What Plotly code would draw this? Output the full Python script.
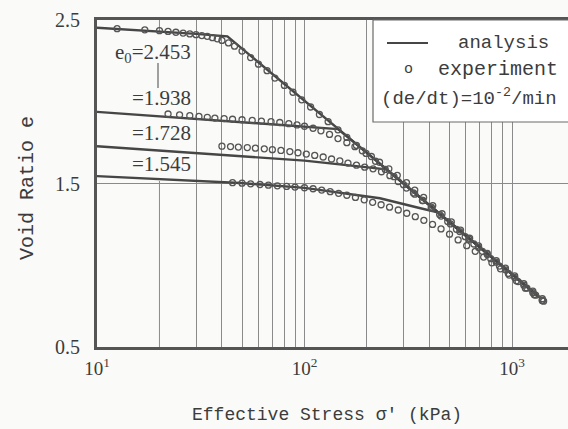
import plotly.graph_objects as go

# ---------------- data ----------------
# analysis curves: stress (kPa) and void ratio
ana1_s = [10, 20, 30, 42.5, 60, 100, 200, 400, 700, 1000, 1350]
ana1_e = [2.453, 2.430, 2.415, 2.400, 2.240, 2.005, 1.687, 1.367, 1.109, 0.945, 0.807]

ana2_s = [10, 49, 85, 145, 200, 400, 700, 1000, 1350]
ana2_e = [1.938, 1.876, 1.855, 1.833, 1.687, 1.367, 1.109, 0.945, 0.807]

ana3_s = [10, 49, 100, 248, 400, 700, 1000, 1350]
ana3_e = [1.728, 1.665, 1.640, 1.587, 1.367, 1.109, 0.945, 0.807]

ana4_s = [10, 49, 100, 231, 346, 438, 700, 1000, 1350]
ana4_e = [1.545, 1.503, 1.473, 1.410, 1.355, 1.324, 1.109, 0.945, 0.807]

# experiment points
exp1_s = [12.5, 17, 20, 22, 24, 26, 28, 30, 32, 34, 36, 38, 40, 43, 46, 50, 55, 60,
          66, 72, 80, 88, 97, 107, 118, 130, 145, 160, 178, 198, 220, 245, 270, 300,
          335, 370, 410, 455, 505, 560, 620, 690, 760, 840, 930, 1030, 1140, 1260, 1400]
exp1_e = [2.447, 2.440, 2.435, 2.430, 2.425, 2.420, 2.415, 2.410, 2.405, 2.400, 2.392,
          2.385, 2.375, 2.360, 2.340, 2.310, 2.270, 2.230, 2.190, 2.145, 2.100, 2.058,
          2.012, 1.968, 1.922, 1.878, 1.828, 1.782, 1.733, 1.684, 1.636, 1.586, 1.542,
          1.493, 1.442, 1.396, 1.349, 1.301, 1.253, 1.206, 1.159, 1.109, 1.065, 1.019,
          0.972, 0.925, 0.878, 0.832, 0.784]

exp2_s = [22, 25, 28, 31, 34, 37, 41, 45, 50, 56, 62, 69, 76, 84, 92, 100, 110, 120,
          132, 145, 160, 175, 190, 210, 230, 255, 280, 310, 340, 375, 415, 460, 510,
          565, 625, 690, 760, 840, 930, 1030, 1140, 1260, 1400]
exp2_e = [1.925, 1.920, 1.915, 1.910, 1.905, 1.900, 1.897, 1.893, 1.890, 1.886, 1.882,
          1.878, 1.873, 1.866, 1.858, 1.850, 1.838, 1.822, 1.800, 1.775, 1.750, 1.725,
          1.700, 1.665, 1.630, 1.590, 1.550, 1.505, 1.460, 1.415, 1.365, 1.315, 1.265,
          1.215, 1.165, 1.118, 1.072, 1.028, 0.982, 0.935, 0.888, 0.842, 0.795]

exp3_s = [40, 44, 48, 53, 58, 64, 70, 77, 85, 93, 102, 112, 123, 135, 148, 162, 178,
          195, 214, 235, 258, 283, 310, 340, 372, 408, 448, 490, 540, 595, 655, 720,
          790, 870, 960, 1050, 1160, 1280, 1400]
exp3_e = [1.728, 1.726, 1.723, 1.720, 1.716, 1.712, 1.707, 1.702, 1.695, 1.688, 1.680,
          1.672, 1.662, 1.650, 1.638, 1.625, 1.612, 1.600, 1.590, 1.572, 1.548, 1.512,
          1.472, 1.435, 1.396, 1.355, 1.310, 1.267, 1.220, 1.175, 1.130, 1.085, 1.040,
          0.995, 0.950, 0.905, 0.860, 0.820, 0.785]

exp4_s = [45, 50, 55, 61, 67, 74, 82, 90, 100, 110, 121, 133, 146, 160, 176, 194, 213,
          234, 257, 283, 311, 342, 376, 414, 455, 500, 550, 605, 665, 730, 800, 880,
          970, 1070, 1180, 1300, 1420]
exp4_e = [1.505, 1.502, 1.498, 1.494, 1.490, 1.486, 1.482, 1.478, 1.474, 1.468, 1.460,
          1.450, 1.440, 1.428, 1.415, 1.400, 1.385, 1.370, 1.355, 1.338, 1.318, 1.297,
          1.275, 1.250, 1.222, 1.190, 1.155, 1.120, 1.085, 1.050, 1.015, 0.978, 0.940,
          0.900, 0.860, 0.817, 0.780]

e0_labels = ["e<sub>0</sub>=2.453", "=1.938", "=1.728", "=1.545"]

# grid positions (all but 20 kPa, which is drawn interrupted behind the labels)
x_tickvals = [10, 30, 40, 50, 60, 70, 80, 90, 100, 200, 300, 400, 500, 600, 700,
              800, 900, 1000, 2000]
x_ticktext = ["10<sup>1</sup>", "", "", "", "", "", "", "", "10<sup>2</sup>", "", "",
              "", "", "", "", "", "", "10<sup>3</sup>", ""]
y_tickvals = [0.5, 1.5, 2.5]
y_ticktext = ["0.5", "1.5", "2.5"]

# ---------------- styling ----------------
BG = "#fafaf8"
INK = "#464646"
GRID = "#8a8a8a"
TXT = "#3c3c3c"
SERIF = "Liberation Serif, Times New Roman, serif"
MONO = "Liberation Mono, DejaVu Sans Mono, monospace"

fig = go.Figure()

for s, e in [(ana1_s, ana1_e), (ana2_s, ana2_e), (ana3_s, ana3_e), (ana4_s, ana4_e)]:
    fig.add_trace(go.Scatter(x=s, y=e, mode="lines",
                             line=dict(color=INK, width=2.4),
                             showlegend=False, hoverinfo="skip"))

for s, e in [(exp1_s, exp1_e), (exp2_s, exp2_e), (exp3_s, exp3_e), (exp4_s, exp4_e)]:
    fig.add_trace(go.Scatter(x=s, y=e, mode="markers",
                             marker=dict(symbol="circle-open", size=6,
                                         color="#555555", line=dict(width=1.3)),
                             showlegend=False, hoverinfo="skip"))

W, H = 568, 429
L, R, T, B = 97, 0, 20, 82
pw, ph = W - L - R, H - T - B


def px(x):
    return (x - L) / pw


def py(y):
    return (H - B - y) / ph


g20 = px(97 + 207.5 * 0.30103)

shapes = [
    dict(type="line", xref="paper", yref="paper", x0=g20, x1=g20,
         y0=py(32), y1=1, line=dict(color=GRID, width=1), layer="below"),
    dict(type="line", xref="paper", yref="paper", x0=g20, x1=g20,
         y0=0, y1=py(181), line=dict(color=GRID, width=1), layer="below"),
    # ditto connector between e0 labels
    dict(type="line", xref="paper", yref="paper", x0=px(158), x1=px(158),
         y0=py(63), y1=py(88), line=dict(color=INK, width=1)),
    # legend box
    dict(type="rect", xref="paper", yref="paper", x0=px(373), x1=px(575),
         y0=py(122), y1=py(20), fillcolor="white",
         line=dict(color="#6a6a6a", width=1.2), layer="above"),
    # legend line sample
    dict(type="line", xref="paper", yref="paper", x0=px(387), x1=px(428),
         y0=py(43), y1=py(43), line=dict(color=INK, width=2), layer="above"),
]

annotations = []
label_y = [53, 98, 133, 164]
for txt, yy in zip(e0_labels, label_y):
    annotations.append(dict(text=txt, xref="paper", yref="paper", x=px(193), y=py(yy),
                            xanchor="right", yanchor="middle", showarrow=False,
                            font=dict(family=SERIF, size=21, color=TXT)))

annotations += [
    dict(text="analysis", xref="paper", yref="paper", x=px(456), y=py(43),
         xanchor="left", yanchor="middle", showarrow=False,
         font=dict(family=MONO, size=19, color=TXT)),
    dict(text="o", xref="paper", yref="paper", x=px(408), y=py(69),
         xanchor="center", yanchor="middle", showarrow=False,
         font=dict(family=MONO, size=15, color=TXT)),
    dict(text="experiment", xref="paper", yref="paper", x=px(436), y=py(69),
         xanchor="left", yanchor="middle", showarrow=False,
         font=dict(family=MONO, size=20, color=TXT)),
    dict(text="(de/dt)=10<sup>-2</sup>/min", xref="paper", yref="paper", x=px(379), y=py(97),
         xanchor="left", yanchor="middle", showarrow=False,
         font=dict(family=MONO, size=19, color=TXT)),
    dict(text="Effective Stress σ' (kPa)", xref="paper", yref="paper", x=px(327), y=py(415),
         xanchor="center", yanchor="middle", showarrow=False,
         font=dict(family=MONO, size=18, color=TXT)),
    dict(text="Void Ratio e", xref="paper", yref="paper", x=px(27), y=py(188),
         xanchor="center", yanchor="middle", showarrow=False, textangle=-90,
         font=dict(family=MONO, size=20, color=TXT)),
]

fig.update_layout(
    width=W, height=H,
    margin=dict(l=L, r=R, t=T, b=B, pad=0),
    paper_bgcolor=BG, plot_bgcolor=BG,
    shapes=shapes, annotations=annotations,
    showlegend=False,
)

fig.update_xaxes(
    type="log", range=[1, 1 + pw / 207.5],
    tickvals=x_tickvals, ticktext=x_ticktext, ticks="",
    tickfont=dict(family=SERIF, size=19, color=TXT),
    ticklabelstandoff=2,
    showgrid=True, gridcolor=GRID, gridwidth=1,
    showline=True, linewidth=3, linecolor="#555555", mirror=True,
    zeroline=False,
)
fig.update_yaxes(
    range=[0.5, 2.5],
    tickvals=y_tickvals, ticktext=y_ticktext, ticks="",
    tickfont=dict(family=SERIF, size=20, color=TXT),
    ticklabelstandoff=10,
    showgrid=True, gridcolor=GRID, gridwidth=1,
    showline=True, linewidth=3, linecolor="#555555", mirror=False,
    zeroline=False,
)

fig.write_html("out.html")
